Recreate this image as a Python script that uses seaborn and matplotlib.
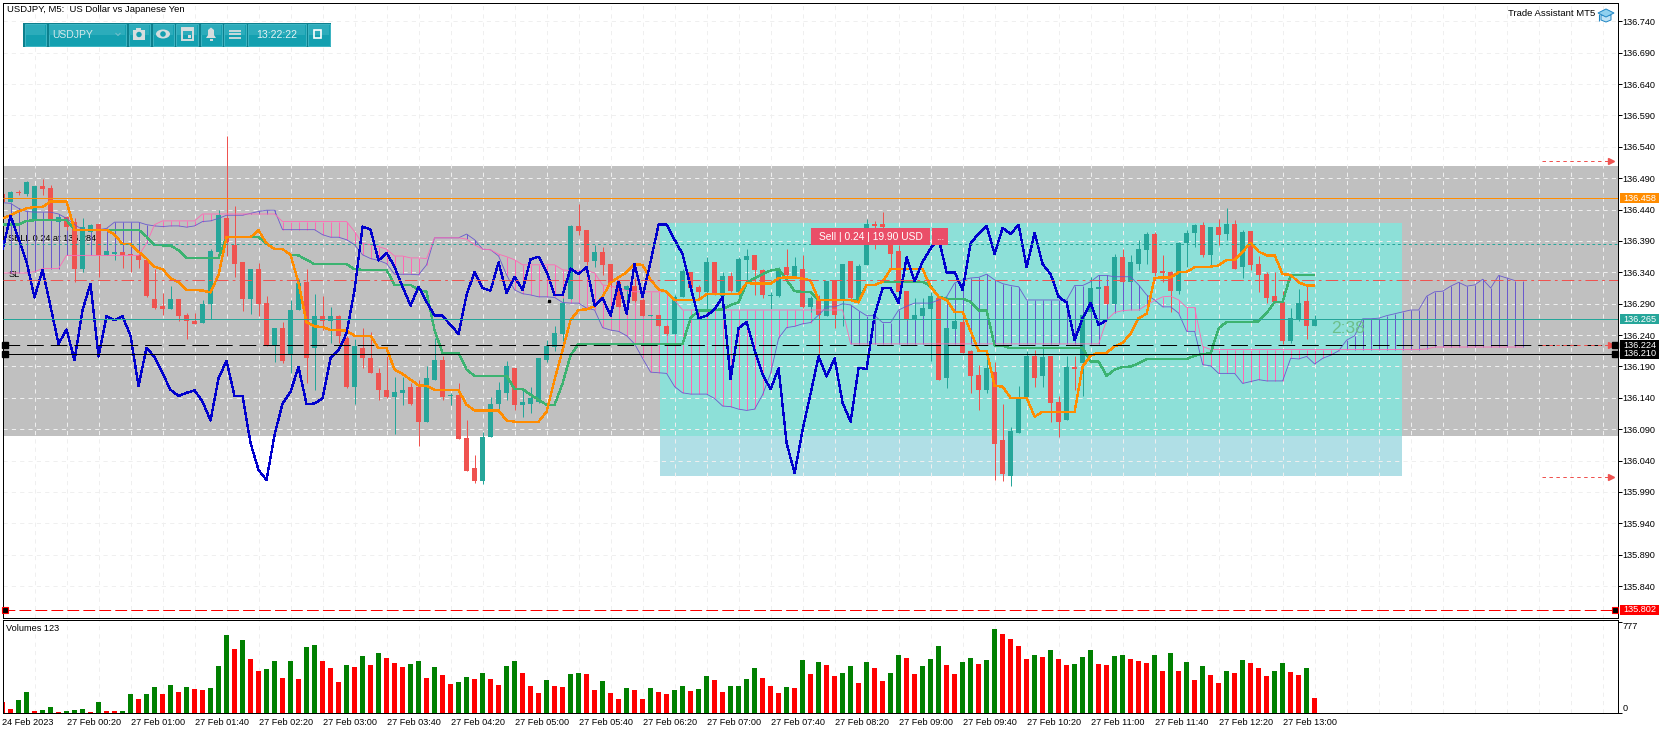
import numpy as np
import pandas as pd
import matplotlib
matplotlib.use("Agg")
import matplotlib.pyplot as plt
import seaborn as sns
from matplotlib.patches import Rectangle, Polygon, Circle, Ellipse
from matplotlib.transforms import blended_transform_factory

W, H = 1670, 734

# USDJPY M5 candles
opens = [
    136.465, 136.452, 136.468, 136.465, 136.423, 136.478, 136.474, 136.421, 136.428, 136.421,
    136.345, 136.405, 136.417, 136.367, 136.370, 136.373, 136.369, 136.368, 136.360, 136.297,
    136.286, 136.282, 136.297, 136.272, 136.262, 136.260, 136.290, 136.373, 136.426, 136.384,
    136.357, 136.298, 136.346, 136.291, 136.224, 136.251, 136.210, 136.280, 136.325, 136.219,
    136.271, 136.263, 136.271, 136.236, 136.158, 136.220, 136.204, 136.179, 136.153, 136.142,
    136.147, 136.158, 136.158, 136.102, 136.169, 136.201, 136.143, 136.145, 136.076, 136.028,
    136.008, 136.078, 136.131, 136.148, 136.188, 136.129, 136.131, 136.134, 136.201, 136.221,
    136.242, 136.298, 136.414, 136.408, 136.358, 136.373, 136.353, 136.325, 136.312, 136.318,
    136.296, 136.270, 136.272, 136.255, 136.242, 136.300, 136.341, 136.316, 136.309, 136.357,
    136.302, 136.334, 136.309, 136.360, 136.368, 136.344, 136.302, 136.302, 136.349, 136.334,
    136.345, 136.284, 136.296, 136.270, 136.327, 136.296, 136.358, 136.298, 136.352, 136.417,
    136.417, 136.384, 136.374, 136.311, 136.265, 136.271, 136.282, 136.299, 136.171, 136.250,
    136.261, 136.215, 136.177, 136.153, 136.181, 136.073, 136.016, 136.084, 136.141, 136.206,
    136.175, 136.207, 136.134, 136.104, 136.189, 136.195, 136.277, 136.314, 136.318, 136.290,
    136.364, 136.325, 136.354, 136.376, 136.401, 136.342, 136.341, 136.311, 136.387, 136.402,
    136.415, 136.368, 136.412, 136.401, 136.417, 136.348, 136.406, 136.354, 136.337, 136.302,
    136.293, 136.230, 136.264, 136.294, 136.254,
]
highs = [
    136.467, 136.469, 136.471, 136.485, 136.478, 136.489, 136.479, 136.428, 136.429, 136.426,
    136.426, 136.417, 136.417, 136.374, 136.373, 136.373, 136.369, 136.370, 136.362, 136.345,
    136.307, 136.319, 136.297, 136.275, 136.275, 136.296, 136.378, 136.439, 136.557, 136.445,
    136.357, 136.345, 136.355, 136.302, 136.251, 136.261, 136.296, 136.329, 136.345, 136.306,
    136.302, 136.285, 136.272, 136.238, 136.234, 136.251, 136.245, 136.188, 136.207, 136.174,
    136.174, 136.163, 136.169, 136.190, 136.235, 136.207, 136.147, 136.163, 136.105, 136.049,
    136.086, 136.141, 136.166, 136.199, 136.188, 136.153, 136.158, 136.203, 136.232, 136.255,
    136.299, 136.416, 136.449, 136.408, 136.384, 136.380, 136.353, 136.325, 136.320, 136.331,
    136.297, 136.272, 136.272, 136.256, 136.304, 136.346, 136.341, 136.320, 136.365, 136.357,
    136.341, 136.341, 136.364, 136.377, 136.368, 136.345, 136.309, 136.348, 136.378, 136.365,
    136.368, 136.303, 136.304, 136.326, 136.327, 136.353, 136.358, 136.353, 136.425, 136.422,
    136.436, 136.384, 136.384, 136.311, 136.299, 136.299, 136.309, 136.299, 136.251, 136.275,
    136.275, 136.216, 136.193, 136.216, 136.197, 136.130, 136.094, 136.159, 136.214, 136.216,
    136.222, 136.207, 136.143, 136.207, 136.206, 136.275, 136.333, 136.316, 136.318, 136.369,
    136.377, 136.367, 136.392, 136.405, 136.405, 136.367, 136.342, 136.388, 136.408, 136.417,
    136.421, 136.412, 136.425, 136.442, 136.423, 136.408, 136.406, 136.366, 136.340, 136.340,
    136.310, 136.283, 136.314, 136.318, 136.272,
]
lows = [
    136.452, 136.452, 136.463, 136.461, 136.423, 136.463, 136.423, 136.421, 136.408, 136.324,
    136.341, 136.404, 136.333, 136.367, 136.360, 136.347, 136.341, 136.347, 136.301, 136.282,
    136.272, 136.282, 136.262, 136.234, 136.257, 136.260, 136.265, 136.373, 136.366, 136.333,
    136.278, 136.274, 136.271, 136.222, 136.197, 136.195, 136.180, 136.280, 136.163, 136.152,
    136.248, 136.227, 136.227, 136.156, 136.131, 136.187, 136.179, 136.136, 136.139, 136.083,
    136.129, 136.129, 136.063, 136.102, 136.169, 136.137, 136.128, 136.075, 136.024, 136.004,
    136.002, 136.078, 136.116, 136.137, 136.121, 136.110, 136.116, 136.132, 136.197, 136.214,
    136.231, 136.298, 136.400, 136.352, 136.349, 136.336, 136.317, 136.284, 136.296, 136.293,
    136.270, 136.270, 136.255, 136.240, 136.242, 136.300, 136.313, 136.296, 136.280, 136.304,
    136.301, 136.309, 136.301, 136.323, 136.304, 136.299, 136.281, 136.301, 136.333, 136.333,
    136.283, 136.277, 136.211, 136.270, 136.251, 136.254, 136.297, 136.296, 136.352, 136.378,
    136.410, 136.344, 136.307, 136.264, 136.264, 136.270, 136.198, 136.169, 136.156, 136.248,
    136.211, 136.148, 136.120, 136.147, 136.009, 136.008, 135.999, 136.084, 136.141, 136.158,
    136.157, 136.102, 136.078, 136.104, 136.153, 136.143, 136.275, 136.314, 136.290, 136.290,
    136.325, 136.325, 136.343, 136.354, 136.334, 136.325, 136.277, 136.306, 136.348, 136.381,
    136.364, 136.352, 136.384, 136.391, 136.345, 136.331, 136.344, 136.309, 136.291, 136.291,
    136.226, 136.228, 136.263, 136.234, 136.254,
]
closes = [
    136.452, 136.468, 136.466, 136.484, 136.478, 136.473, 136.423, 136.428, 136.412, 136.346,
    136.412, 136.416, 136.367, 136.374, 136.371, 136.367, 136.367, 136.359, 136.302, 136.283,
    136.282, 136.297, 136.271, 136.262, 136.258, 136.290, 136.374, 136.431, 136.388, 136.354,
    136.298, 136.345, 136.290, 136.223, 136.251, 136.199, 136.280, 136.323, 136.204, 136.271,
    136.262, 136.271, 136.238, 136.158, 136.222, 136.204, 136.180, 136.152, 136.142, 136.150,
    136.153, 136.131, 136.102, 136.172, 136.200, 136.142, 136.145, 136.075, 136.024, 136.008,
    136.078, 136.131, 136.153, 136.191, 136.129, 136.134, 136.140, 136.203, 136.222, 136.243,
    136.291, 136.414, 136.406, 136.357, 136.373, 136.352, 136.323, 136.285, 136.318, 136.295,
    136.270, 136.272, 136.255, 136.241, 136.301, 136.342, 136.315, 136.309, 136.357, 136.306,
    136.334, 136.310, 136.362, 136.366, 136.344, 136.304, 136.303, 136.346, 136.336, 136.350,
    136.284, 136.299, 136.272, 136.326, 136.272, 136.353, 136.299, 136.350, 136.417, 136.414,
    136.412, 136.369, 136.308, 136.265, 136.272, 136.283, 136.303, 136.169, 136.251, 136.262,
    136.212, 136.175, 136.153, 136.188, 136.067, 136.019, 136.087, 136.138, 136.207, 136.172,
    136.205, 136.132, 136.102, 136.189, 136.186, 136.272, 136.315, 136.316, 136.290, 136.364,
    136.325, 136.357, 136.377, 136.401, 136.339, 136.339, 136.311, 136.387, 136.402, 136.416,
    136.368, 136.412, 136.400, 136.417, 136.346, 136.405, 136.352, 136.336, 136.299, 136.292,
    136.231, 136.267, 136.291, 136.255, 136.265,
]

# Ichimoku
chikou = [
    136.376, 136.430, 136.394, 136.357, 136.300, 136.344, 136.286, 136.226, 136.249, 136.200,
    136.280, 136.322, 136.206, 136.270, 136.264, 136.270, 136.239, 136.159, 136.220, 136.205,
    136.179, 136.153, 136.143, 136.148, 136.152, 136.134, 136.104, 136.171, 136.199, 136.143,
    136.143, 136.068, 136.025, 136.009, 136.081, 136.131, 136.150, 136.189, 136.130, 136.131,
    136.139, 136.203, 136.216, 136.243, 136.312, 136.413, 136.408, 136.359, 136.371, 136.349,
    136.317, 136.287, 136.317, 136.293, 136.271, 136.271, 136.256, 136.242, 136.304, 136.341,
    136.315, 136.311, 136.356, 136.307, 136.333, 136.312, 136.361, 136.365, 136.341, 136.304,
    136.304, 136.346, 136.337, 136.349, 136.287, 136.299, 136.271, 136.325, 136.274, 136.353,
    136.301, 136.357, 136.416, 136.416, 136.392, 136.369, 136.317, 136.267, 136.271, 136.281,
    136.301, 136.170, 136.251, 136.261, 136.216, 136.177, 136.154, 136.187, 136.068, 136.020,
    136.089, 136.147, 136.206, 136.174, 136.203, 136.132, 136.102, 136.188, 136.186, 136.272,
    136.315, 136.315, 136.291, 136.364, 136.326, 136.357, 136.378, 136.394, 136.340, 136.340,
    136.312, 136.386, 136.402, 136.414, 136.369, 136.411, 136.401, 136.416, 136.348, 136.403,
    136.353, 136.337, 136.301, 136.292, 136.232, 136.267, 136.291, 136.256, 136.264,
]
tenkan = (
    [136.426, 136.431, 136.437, 136.442, 136.444, 136.444, 136.453, 136.453, 136.453]
    + [136.408] * 5
    + [136.400, 136.385, 136.385, 136.373, 136.362, 136.349, 136.345, 136.331, 136.324, 136.312,
       136.312, 136.311, 136.308, 136.336]
    + [136.396] * 4
    + [136.407, 136.386, 136.377, 136.377, 136.368, 136.323, 136.260, 136.254, 136.253, 136.248,
       136.248, 136.247, 136.239, 136.239, 136.239, 136.219, 136.219, 136.185, 136.178, 136.169,
       136.160, 136.159, 136.153]
    + [136.152] * 3 + [136.129] + [136.120] * 4 + [136.104] + [136.102] * 4
    + [136.118, 136.169, 136.216, 136.264, 136.280, 136.281, 136.286, 136.301, 136.324, 136.332,
       136.340, 136.353, 136.352, 136.328, 136.313, 136.309]
    + [136.296] * 4 + [136.305] * 5 + [136.323] + [136.322] * 3
    + [136.331, 136.332, 136.332, 136.330, 136.327]
    + [136.296] * 5
    + [136.292, 136.320, 136.320, 136.325, 136.345, 136.345, 136.345, 136.345, 136.345, 136.317,
       136.301, 136.296, 136.277, 136.277, 136.246, 136.215, 136.215, 136.159, 136.158]
    + [136.140] * 3 + [136.110] + [136.118] * 5
    + [136.190, 136.207, 136.212, 136.212, 136.222, 136.228, 136.242, 136.267, 136.274, 136.331,
       136.332, 136.332, 136.340, 136.341, 136.348, 136.348, 136.349, 136.351, 136.360, 136.360,
       136.373, 136.387, 136.373, 136.367, 136.367, 136.337, 136.336, 136.324, 136.319, 136.319]
)
kijun = (
    [136.416] * 3 + [136.422] + [136.423] * 5 + [136.408] * 9
    + [136.397, 136.384, 136.383, 136.383, 136.375]
    + [136.363] * 5 + [136.396] * 5
    + [136.386, 136.377, 136.377, 136.368, 136.367, 136.360]
    + [136.353] * 5 + [136.345] + [136.344] * 4 + [136.320] * 3 + [136.312]
    + [136.309, 136.248, 136.211, 136.211, 136.211, 136.185]
    + [136.175] * 5
    + [136.154, 136.154, 136.145, 136.137, 136.129, 136.129, 136.163, 136.208]
    + [136.226] * 14
    + [136.267, 136.279, 136.279, 136.280, 136.281, 136.288, 136.292, 136.323, 136.331, 136.337,
       136.343, 136.345, 136.328, 136.310, 136.309, 136.309]
    + [136.296] * 6 + [136.320] * 2 + [136.325] * 6
    + [136.318, 136.301, 136.298, 136.298, 136.298, 136.293, 136.279, 136.279, 136.223, 136.223]
    + [136.219] * 10
    + [136.198, 136.198, 136.175, 136.185, 136.189, 136.190, 136.195]
    + [136.202] * 6
    + [136.207, 136.210, 136.211, 136.251]
    + [136.261] * 4
    + [136.262, 136.275, 136.293, 136.293]
    + [136.336] * 4
)
span_a = (
    [136.451, 136.450, 136.442, 136.437, 136.436, 136.436, 136.436, 136.433, 136.426, 136.416,
     136.408, 136.408, 136.408, 136.410, 136.420, 136.420, 136.420, 136.420, 136.416, 136.414,
     136.413, 136.414, 136.414, 136.412, 136.414, 136.421, 136.422, 136.426, 136.431, 136.431,
     136.431, 136.434, 136.437, 136.439, 136.439]
    + [136.408] * 5
    + [136.400, 136.396, 136.396, 136.392, 136.384, 136.368, 136.362, 136.359, 136.354, 136.337,
       136.337, 136.337, 136.336]
    + [136.352, 136.395, 136.395, 136.395, 136.395, 136.401, 136.392, 136.377, 136.376, 136.366,
       136.336, 136.312, 136.306, 136.304, 136.301, 136.301, 136.300, 136.292, 136.291, 136.291,
       136.283, 136.280, 136.252, 136.248, 136.246, 136.239, 136.226, 136.203, 136.181, 136.180,
       136.179, 136.158, 136.148, 136.146, 136.146, 136.146, 136.139, 136.127, 136.126, 136.122,
       136.120, 136.122, 136.145, 136.179, 136.235, 136.252, 136.254, 136.258, 136.260, 136.272,
       136.285, 136.285]
    + [136.290, 136.288, 136.279, 136.271, 136.271, 136.260, 136.260, 136.280, 136.286, 136.291,
       136.291, 136.291, 136.296, 136.301, 136.323, 136.328, 136.331, 136.332, 136.337, 136.328,
       136.322, 136.319, 136.317, 136.296, 136.296, 136.296, 136.296, 136.296, 136.296, 136.319,
       136.319, 136.325, 136.335, 136.335, 136.333, 136.333, 136.333, 136.320, 136.304, 136.296,
       136.285, 136.285, 136.275, 136.246, 136.246, 136.193, 136.191, 136.179, 136.179, 136.179,
       136.163, 136.166, 136.169]
    + [136.167, 136.167, 136.167, 136.203, 136.202, 136.206, 136.194, 136.203, 136.208, 136.215,
       136.232, 136.239, 136.266, 136.266, 136.267, 136.271, 136.274, 136.277, 136.280, 136.280,
       136.302, 136.309, 136.310, 136.318, 136.324, 136.318, 136.320, 136.329, 136.315, 136.335,
       136.331, 136.327, 136.327]
)
span_b = (
    [136.339] * 4 + [136.341] + [136.346] * 3 + [136.367] * 10
    + [136.386, 136.416] + [136.422] * 5 + [136.433] * 10 + [136.421] * 9
    + [136.405, 136.386, 136.384, 136.381, 136.377, 136.366, 136.366, 136.363, 136.363]
    + [136.362] + [136.395] * 4
    + [136.393, 136.384, 136.377, 136.376, 136.369, 136.365, 136.360]
    + [136.352] * 5 + [136.344] + [136.343] * 3
    + [136.339, 136.320, 136.318, 136.315, 136.311] + [136.309] * 5 + [136.296]
    + [136.280] * 21 + [136.226] * 32
    + [136.264, 136.276, 136.279, 136.280, 136.280, 136.288, 136.295, 136.301, 136.302, 136.296,
       136.284, 136.284, 136.222]
    + [136.217] * 27 + [136.218] + [136.221] * 12
)

# volumes and their colours
volumes = [
    95, 36, 112, 179, 20, 28, 53, 11, 20, 28,
    36, 11, 95, 20, 20, 20, 162, 120, 162, 221,
    162, 238, 179, 221, 204, 196, 213, 398, 666, 549,
    624, 456, 356, 372, 440, 297, 440, 288, 566, 582,
    440, 381, 263, 406, 389, 482, 406, 507, 465, 423,
    389, 414, 440, 297, 389, 322, 246, 263, 305, 288,
    339, 288, 238, 398, 440, 339, 230, 171, 280, 230,
    221, 330, 339, 330, 196, 272, 171, 120, 213, 196,
    120, 213, 179, 162, 196, 230, 188, 204, 314, 280,
    179, 230, 230, 288, 381, 297, 230, 171, 221, 213,
    448, 330, 431, 406, 314, 339, 398, 255, 431, 381,
    272, 339, 490, 465, 330, 398, 456, 574, 406, 330,
    431, 465, 414, 448, 717, 675, 633, 574, 456, 490,
    473, 540, 456, 406, 414, 473, 540, 414, 406, 482,
    490, 456, 440, 423, 498, 356, 515, 356, 431, 280,
    398, 322, 255, 356, 339, 448, 423, 381, 314, 356,
    423, 347, 322, 381, 129,
]
volume_green = [
    2, 3, 5, 6, 8, 9, 10, 12, 15, 16, 18, 19, 21, 23, 26, 27, 28, 30, 33, 34, 36, 38, 39, 43, 45,
    47, 51, 52, 54, 57, 58, 60, 63, 64, 68, 71, 72, 75, 78, 81, 84, 85, 87, 88, 91, 92, 93, 94,
    98, 100, 102, 105, 106, 108, 111, 112, 115, 116, 117, 120, 121, 123, 124, 129, 131, 134, 135,
    136, 139, 140, 144, 146, 148, 150, 153, 155, 159, 160, 163,
]

y_ticks = [136.74 - 0.05 * k for k in range(19)]
y_labels = [f"{v:.3f}" for v in y_ticks]
x_labels = ["24 Feb 2023", "27 Feb 00:20", "27 Feb 01:00", "27 Feb 01:40", "27 Feb 02:20",
            "27 Feb 03:00", "27 Feb 03:40", "27 Feb 04:20", "27 Feb 05:00", "27 Feb 05:40",
            "27 Feb 06:20", "27 Feb 07:00", "27 Feb 07:40", "27 Feb 08:20", "27 Feb 09:00",
            "27 Feb 09:40", "27 Feb 10:20", "27 Feb 11:00", "27 Feb 11:40", "27 Feb 12:20",
            "27 Feb 13:00"]

UP, DOWN = "#26A69A", "#EF5350"
PURPLE, PINK = "#6A5ACD", "#FF69B4"
BLUE, ORANGE, GREEN = "#0000CD", "#FF8C00", "#3CB371"
GRID = "#EFEFEF"

sns.set_theme(style="white")
plt.rcParams["font.family"] = ["Liberation Sans", "DejaVu Sans"]
plt.rcParams["lines.scale_dashes"] = False
plt.rcParams["lines.solid_capstyle"] = "butt"
FS = 6.6
PX = 0.72
THICK = 0.95  # aliased polylines, about two pixels wide


def axes_px(x0, y0, x1, y1):
    return [x0 / W, 1 - y1 / H, (x1 - x0) / W, (y1 - y0) / H]


fig = plt.figure(figsize=(W / 100, H / 100), dpi=100, facecolor="white")
ax = fig.add_axes(axes_px(2.5, 2.5, 1617.5, 617.5))
vol_ax = fig.add_axes(axes_px(2.5, 619.5, 1617.5, 713))
top = fig.add_axes([0, 0, 1, 1], zorder=10)
top.set_xlim(0, W)
top.set_ylim(H, 0)
top.axis("off")
top.patch.set_alpha(0)

x_max = 201.85
ax.set_xlim(0, x_max)
ax.set_ylim(135.790, 136.770)

# background boxes
ax.axhspan(136.080, 136.510, color="#C0C0C0", lw=0, zorder=0.2)
ax.add_patch(Rectangle((82.2, 136.080), 92.7, 0.339, color="#8DE0D8", lw=0, zorder=0.3))
ax.add_patch(Rectangle((82.2, 136.016), 92.7, 0.064, color="#B0DFE6", lw=0, zorder=0.3))

ax.set_axisbelow(True)
ax.set_xticks(np.arange(0, 202, 4))
ax.set_yticks(y_ticks)
ax.set_yticklabels(y_labels)
ax.grid(True, color=GRID, lw=PX, ls=(0, (3, 3)))
ax.tick_params(axis="x", length=0, labelbottom=False)
ax.yaxis.tick_right()
ax.tick_params(axis="y", length=3, width=PX, pad=0.8, labelsize=FS, color="black", labelcolor="black")

# order label texts sit under the candles
ax.text(0.7, 136.394, "SELL 0.24 at 136.284", fontsize=FS, color="black", va="center", zorder=1)
ax.text(0.7, 136.336, "SL", fontsize=FS, color="black", va="center", zorder=1)

# cloud hatching
cloud_x = np.arange(len(span_a))
a = np.array(span_a)
b = np.array(span_b)
ax.vlines(cloud_x[a >= b], b[a >= b], a[a >= b], color=PURPLE, lw=PX, zorder=1.5)
ax.vlines(cloud_x[a < b], a[a < b], b[a < b], color=PINK, lw=PX, zorder=1.5)

# candles
candles = pd.DataFrame({"o": opens, "h": highs, "l": lows, "c": closes})
candles["x"] = candles.index
candles["color"] = np.where(candles["c"] < candles["o"], DOWN, UP)
ax.vlines(candles["x"], candles["l"], candles["h"], colors=candles["color"], lw=PX, zorder=2)
ax.bar(candles["x"], (candles["c"] - candles["o"]).abs().clip(lower=0.002),
       bottom=candles[["o", "c"]].min(axis=1), width=0.6, color=candles["color"], lw=0, zorder=2.1)

# ichimoku lines
for vals, col, lw, z, aa in [
    (span_a, PURPLE, 0.6, 2.5, True), (span_b, PINK, 0.6, 2.5, True),
    (kijun, GREEN, THICK, 3, False), (tenkan, ORANGE, THICK, 3.1, False), (chikou, BLUE, THICK, 3.2, False),
]:
    sns.lineplot(x=np.arange(len(vals)), y=vals, color=col, linewidth=lw, ax=ax, zorder=z,
                 estimator=None, sort=False, legend=False, antialiased=aa)
ax.set_ylabel("")
ax.set_xlabel("")

# price lines
ax.axhline(136.458, color=ORANGE, lw=PX, zorder=4)
ax.axhline(136.385, color=UP, lw=PX, ls=(0, (2, 2)), zorder=4)
ax.axhline(136.328, color=DOWN, lw=PX, ls=(0, (9, 3, 2, 3)), zorder=4)
ax.axhline(136.265, color=UP, lw=PX, zorder=4)
ax.axhline(136.224, color="black", lw=PX, ls=(0, (12, 5)), zorder=4)
ax.axhline(136.210, color="black", lw=PX, zorder=4)
ax.axhline(135.802, color="#FF0000", lw=PX, ls=(0, (8.5, 3)), zorder=4)

# alert arrows on the right
for price in [136.518, 136.225, 136.014]:
    ax.plot([192.4, 201.0], [price, price], color=DOWN, lw=PX, ls=(0, (2.5, 2.5)), zorder=4)
    ax.plot([201.0], [price], marker=">", ms=4.5, color=DOWN, ls="none", zorder=4)

# handles
for xh in [0.35, 201.5]:
    ax.plot([xh, xh], [136.224, 136.210], marker="s", ms=3.8, color="black", ls="none", zorder=5,
            clip_on=False)
    ax.plot([xh], [135.802], marker="s", ms=3.8, mfc="black", mec="#FF0000", mew=0.8, ls="none",
            zorder=5, clip_on=False)
ax.plot([68.3], [136.294], marker="s", ms=2, color="black", ls="none", zorder=5)

ax.text(166.0, 136.251, "2:38", fontsize=12.5, color="#6DBF8B", va="center", zorder=5)

# price tags on the axis
tag_tr = blended_transform_factory(ax.transAxes, ax.transData)
for price, txt, col in [
    (136.458, "136.458", ORANGE), (136.265, "136.265", UP), (136.224, "136.224", "black"),
    (136.210, "136.210", "black"), (135.802, "135.802", "#FF0000"),
]:
    ax.add_patch(Rectangle((1.0018, price - 0.008), 0.0241, 0.016, transform=tag_tr, fc=col, lw=0,
                           clip_on=False, zorder=6))
    ax.text(1.0038, price, txt, transform=tag_tr, fontsize=FS, color="white", va="center", ha="left",
            clip_on=False, zorder=7)

# volumes
vol_colors = ["up" if i in volume_green else "down" for i in range(len(volumes))]
vol_df = pd.DataFrame({"bar": np.arange(len(volumes)), "volume": volumes, "kind": vol_colors})
vol_ax.set_axisbelow(True)
sns.barplot(data=vol_df, x="bar", y="volume", hue="kind", palette={"up": "#008000", "down": "#FF0000"},
            native_scale=True, dodge=False, width=0.55, saturation=1, linewidth=0, errorbar=None,
            legend=False, ax=vol_ax)
vol_ax.set_xlim(0, x_max)
vol_ax.set_ylim(0, 796)
vol_ax.set_xlabel("")
vol_ax.set_ylabel("")
vol_ax.set_xticks(np.arange(0, 168, 8))
vol_ax.set_xticklabels(x_labels, ha="left")
vol_ax.set_xticks(np.arange(0, 202, 4), minor=True)
vol_ax.grid(True, which="both", axis="x", color=GRID, lw=PX, ls=(0, (3, 3)))
vol_ax.tick_params(axis="x", which="major", length=3, width=PX, pad=0.6, labelsize=FS, color="black",
                   labelcolor="black")
vol_ax.tick_params(axis="x", which="minor", length=0)
vol_ax.yaxis.tick_right()
vol_ax.set_yticks([0, 777])
vol_ax.set_yticklabels(["0", "777"])
vol_ax.tick_params(axis="y", length=3, width=PX, pad=0.8, labelsize=FS, color="black", labelcolor="black")
vol_ax.get_yticklabels()[0].set_va("bottom")
vol_ax.get_yticklabels()[1].set_va("top")
vol_ax.text(0.4, 717, "Volumes 123", fontsize=FS, color="black", va="center")

for a_ in (ax, vol_ax):
    for s in a_.spines.values():
        s.set_visible(True)
        s.set_color("black")
        s.set_linewidth(PX)

# sell tag
top.add_patch(Rectangle((811, 228), 119, 16.5, fc="#EA4E68", lw=0))
top.add_patch(Rectangle((932, 228), 16, 16.5, fc="#EA4E68", lw=0))
top.text(870.5, 236.5, "Sell | 0.24 | 19.90 USD", color="white", fontsize=7.4, ha="center", va="center")
top.text(940, 236.5, "...", color="white", fontsize=7.4, ha="center", va="center")

# header texts
top.text(7, 10, "USDJPY, M5:  US Dollar vs Japanese Yen", fontsize=6.8, color="black", va="center")
top.text(1595, 14, "Trade Assistant MT5", fontsize=6.8, color="black", va="center", ha="right")
top.add_patch(Polygon([(1601, 15), (1601, 20), (1606, 22), (1611, 20), (1611, 15)], fc="#BFE3F5", ec="#1F86C4", lw=0.7))
top.add_patch(Polygon([(1598, 13), (1606, 9), (1614, 13), (1606, 17)], fc="#8FD0EE", ec="#1F86C4", lw=0.7))
top.plot([1599, 1599], [14, 21], color="#1F86C4", lw=0.8)

# toolbar
top.add_patch(Rectangle((23, 22.8), 308, 24, fc="#0D7F8D", lw=0))
for x0, x1 in [(25, 46), (48.5, 126), (128.5, 150), (152.5, 174), (176, 197.5), (200.5, 221.5),
               (224, 245.5), (248, 305.5), (308, 330)]:
    top.add_patch(Rectangle((x0, 24), x1 - x0, 21.8, fc="#14A0B0", ec="#3FB6C4", lw=0.7))
    top.add_patch(Rectangle((x0 + 0.7, 24.7), x1 - x0 - 1.4, 10, fc="#2CACBB", lw=0))
top.text(52, 34.5, "USDJPY", color="#D5E9EC", fontsize=7.5, va="center")
top.text(277, 34.5, "13:22:22", color="#E4F3F5", fontsize=7.6, va="center", ha="center")
icon = "#D6DDDE"
top.plot([115.5, 118, 120.5], [33, 35.5, 33], color="#6FBECA", lw=0.8)
top.add_patch(Rectangle((133, 29.5), 12, 10, fc=icon, lw=0))
top.add_patch(Rectangle((136, 28), 5, 2, fc=icon, lw=0))
top.add_patch(Circle((139, 34.5), 2.7, fc="#14A0B0", ec="none"))
top.add_patch(Ellipse((163, 34), 14, 9, fc=icon, ec="none"))
top.add_patch(Circle((163, 34), 2.8, fc="#14A0B0", ec="none"))
top.add_patch(Rectangle((181.5, 28), 11, 12, fc="none", ec=icon, lw=1.4))
top.add_patch(Rectangle((181, 28), 12, 3, fc=icon, lw=0))
top.add_patch(Rectangle((187.5, 35), 3, 3, fc=icon, lw=0))
top.add_patch(Polygon([(206, 38), (208, 35), (208, 30), (211, 27.5), (214, 30), (214, 35), (216, 38)], fc=icon, ec="none"))
top.add_patch(Rectangle((209.5, 39), 3, 1.5, fc=icon, lw=0))
for yy in (30.5, 34, 37.5):
    top.plot([229, 241], [yy, yy], color=icon, lw=1.3)
top.add_patch(Rectangle((313.5, 30), 7.5, 8, fc="none", ec="white", lw=1.2))

fig.savefig("out.png", dpi=100)
